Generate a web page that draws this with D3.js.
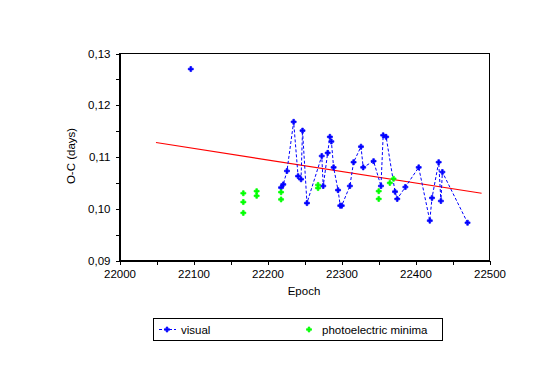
<!DOCTYPE html>
<html>
<head>
<meta charset="utf-8">
<script src="https://cdn.jsdelivr.net/npm/d3@7"></script>
<style>
  html, body { margin: 0; padding: 0; background: #fff; }
  svg { display: block; font-family: "Liberation Sans", Arial, sans-serif; }
</style>
</head>
<body>
<svg id="chart" width="542" height="368"></svg>
<script>
// ---- data ----
const visualEpoch = [22097, null, 22219, 22222, 22227, 22236, 22242, 22246, 22248, 22254,
  22274, 22276, 22282, 22285, 22287, 22290, 22296, 22299, 22301, 22312,
  22317, 22327, 22330, 22344, 22354, 22357, 22361, 22373, 22376, 22387,
  22405, 22420, 22423, 22432, 22435, 22437, 22471];
const visualOC = [0.1269, null, 0.1040, 0.1046, 0.1072, 0.1167, 0.1062, 0.1056, 0.1150, 0.1010,
  0.1101, 0.1043, 0.1107, 0.1138, 0.1129, 0.1079, 0.1035, 0.1005, 0.1005, 0.1043,
  0.1089, 0.1119, 0.1079, 0.1091, 0.1043, 0.1141, 0.1138, 0.1032, 0.1018, 0.1041,
  0.1079, 0.0976, 0.1020, 0.1089, 0.1014, 0.1070, 0.0972];

const photoEpoch = [22168, 22168, 22168, 22186, 22186, 22219, 22219, 22269, 22269, 22351, 22351, 22366, 22371];
const photoOC    = [0.1029, 0.1012, 0.0991, 0.1033, 0.1024, 0.1031, 0.1017, 0.1045, 0.1039, 0.1033, 0.1018, 0.1049, 0.1057];

const trendEpoch = [22050, 22490];
const trendOC    = [0.1127, 0.1029];

const xTickValues = [22000, 22050, 22100, 22150, 22200, 22250, 22300, 22350, 22400, 22450, 22500];
const xTickLabels = ["22000", "", "22100", "", "22200", "", "22300", "", "22400", "", "22500"];
const yTickValues = [0.09, 0.095, 0.10, 0.105, 0.11, 0.115, 0.12, 0.125, 0.13];
const yTickLabels = ["0,09", "", "0,10", "", "0,11", "", "0,12", "", "0,13"];

const seriesNames = ["visual", "photoelectric minima"];

// ---- layout ----
const L = 119, R = 489, T = 53, B = 260;
const svg = d3.select("#chart");

const x = d3.scaleLinear().domain([22000, 22500]).range([L, R]);
const y = d3.scaleLinear().domain([0.09, 0.13]).range([B, T]);

// frame
svg.append("rect")
  .attr("x", L + 0.5).attr("y", T + 0.5)
  .attr("width", R - L).attr("height", B - T)
  .attr("fill", "none").attr("stroke", "#000").attr("stroke-width", 1)
  .attr("shape-rendering", "crispEdges");

// axes
const xAxis = d3.axisBottom(x)
  .tickValues(xTickValues)
  .tickFormat((d, i) => xTickLabels[i])
  .tickSizeInner(4).tickSizeOuter(0).tickPadding(5);
const gx = svg.append("g").attr("transform", `translate(0.5,${B + 0.5})`).call(xAxis);

const yAxis = d3.axisLeft(y)
  .tickValues(yTickValues)
  .tickFormat((d, i) => yTickLabels[i])
  .tickSizeInner(4).tickSizeOuter(0).tickPadding(5);
const gy = svg.append("g").attr("transform", `translate(${L + 0.5},0.5)`).call(yAxis);

[gx, gy].forEach(g => {
  g.selectAll("path.domain").attr("stroke", "#000").attr("shape-rendering", "crispEdges");
  g.selectAll("line").attr("stroke", "#000").attr("shape-rendering", "crispEdges");
  g.selectAll("text").attr("fill", "#000").style("font-size", "11.5px")
    .style("font-family", "'Liberation Sans', Arial, sans-serif");
});

// axis titles
svg.append("text").attr("x", 304).attr("y", 295)
  .attr("text-anchor", "middle").style("font-size", "11.5px").text("Epoch");
svg.append("text")
  .attr("transform", "translate(75,156) rotate(-90)")
  .attr("text-anchor", "middle").style("font-size", "11.5px").text("O-C (days)");

// trend line
const trend = trendEpoch.map((e, i) => [e, trendOC[i]]);
svg.append("path")
  .attr("d", d3.line().x(d => x(d[0])).y(d => y(d[1]))(trend))
  .attr("fill", "none").attr("stroke", "#ff0000").attr("stroke-width", 1.2);

// visual series
const visual = visualEpoch.map((e, i) => [e, visualOC[i]]);
svg.append("path")
  .attr("d", d3.line().defined(d => d[0] !== null && d[1] !== null)
    .x(d => x(d[0])).y(d => y(d[1]))(visual))
  .attr("fill", "none").attr("stroke", "#0000ff").attr("stroke-width", 1)
  .attr("stroke-dasharray", "3,2");

const sym = d3.symbol().type(d3.symbolCross).size(14);

svg.append("g").selectAll("path")
  .data(visual.filter(d => d[0] !== null))
  .join("path")
  .attr("d", sym)
  .attr("transform", d => `translate(${x(d[0])},${y(d[1])})`)
  .attr("fill", "#0000ff").attr("stroke", "#0000ff").attr("stroke-width", 0.7);

// photoelectric series
const photo = photoEpoch.map((e, i) => [e, photoOC[i]]);
svg.append("g").selectAll("path")
  .data(photo)
  .join("path")
  .attr("d", sym)
  .attr("transform", d => `translate(${x(d[0])},${y(d[1])})`)
  .attr("fill", "#00ff00").attr("stroke", "#00ff00").attr("stroke-width", 0.7);

// legend
const lg = svg.append("g");
lg.append("rect").attr("x", 153.5).attr("y", 318.5).attr("width", 289).attr("height", 22)
  .attr("fill", "#fff").attr("stroke", "#000").attr("stroke-width", 1)
  .attr("shape-rendering", "crispEdges");
lg.append("line").attr("x1", 159).attr("x2", 176).attr("y1", 329.5).attr("y2", 329.5)
  .attr("stroke", "#0000ff").attr("stroke-dasharray", "3,2");
lg.append("path").attr("d", sym).attr("transform", "translate(167,329.5)")
  .attr("fill", "#0000ff").attr("stroke", "#0000ff").attr("stroke-width", 0.7);
lg.append("text").attr("x", 181).attr("y", 333.5).style("font-size", "11.5px").text(seriesNames[0]);
lg.append("path").attr("d", sym).attr("transform", "translate(309,329.5)")
  .attr("fill", "#00ff00").attr("stroke", "#00ff00").attr("stroke-width", 0.7);
lg.append("text").attr("x", 322).attr("y", 333.5).style("font-size", "11.5px").text(seriesNames[1]);
</script>
</body>
</html>
